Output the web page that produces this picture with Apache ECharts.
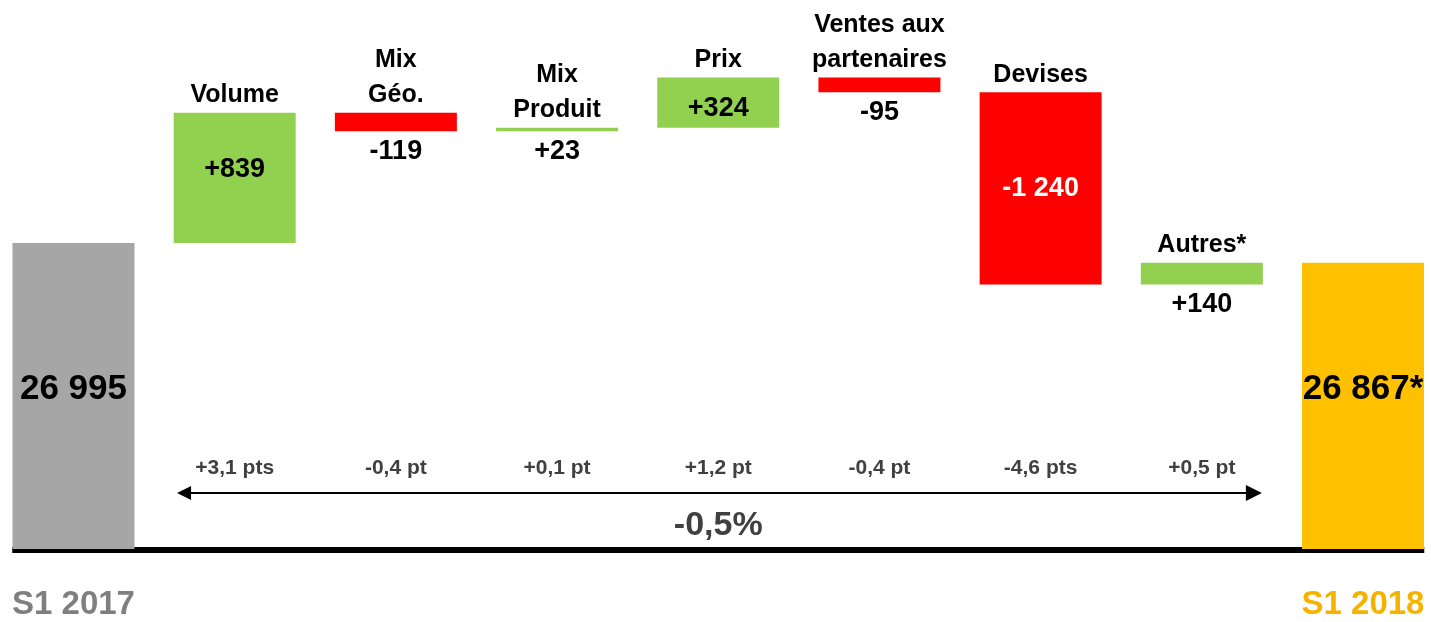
<!DOCTYPE html>
<html>
<head>
<meta charset="utf-8">
<script src="https://cdn.jsdelivr.net/npm/echarts@6/dist/echarts.min.js"></script>
<style>
html, body { margin: 0; padding: 0; background: #fff; }
#chart { width: 1431px; height: 622px; }
</style>
</head>
<body>
<div id="chart"></div>
<script>
// données du graphique (CA S1 2017 -> S1 2018)
var categories = ['S1 2017', 'Volume', 'Mix\nGéo.', 'Mix\nProduit', 'Prix', 'Ventes aux\npartenaires', 'Devises', 'Autres*', 'S1 2018'];
var startValue = 26995;
var endValue = 26867;
var deltas = [839, -119, 23, 324, -95, -1240, 140];
var valueLabels = ['26 995', '+839', '-119', '+23', '+324', '-95', '-1 240', '+140', '26 867*'];
var ptsLabels = ['', '+3,1 pts', '-0,4 pt', '+0,1 pt', '+1,2 pt', '-0,4 pt', '-4,6 pts', '+0,5 pt', ''];
var totalChange = '-0,5%';

var FONT = "'Liberation Sans Narrow', 'Arial Narrow', 'Liberation Sans', Arial, sans-serif";
var GREEN = '#92D050', RED = '#FF0000', GREY = '#A6A6A6', GOLD = '#FFC000';
var Y_MIN = 25020, Y_MAX = 28500;
var ARROW_Y = 25381;
// position des valeurs : dans la barre ou en dessous
var valuePos = ['inside', 'inside', 'bottom', 'bottom', 'inside', 'bottom', 'inside', 'bottom', 'inside'];
var valueOffset = [-7, -8, 0, 0, 6, 0, 0, 0, -17];

(function () {
    var base = [0], heights = [startValue], tops = ['-'];
    var cum = startValue;
    for (var i = 0; i < deltas.length; i++) {
        var next = cum + deltas[i];
        base.push(Math.min(cum, next));
        heights.push(Math.abs(deltas[i]));
        tops.push(Math.max(cum, next));
        cum = next;
    }
    base.push(0);
    heights.push(endValue);
    tops.push('-');

    var last = heights.length - 1;
    var barData = heights.map(function (h, i) {
        var color = i === 0 ? GREY : (i === last ? GOLD : (deltas[i - 1] >= 0 ? GREEN : RED));
        var big = (i === 0 || i === last);
        return {
            value: h,
            itemStyle: { color: color },
            label: {
                show: true,
                position: valuePos[i],
                formatter: valueLabels[i],
                fontSize: big ? 35 : 27,
                fontWeight: 'bold',
                fontFamily: FONT,
                color: (deltas[i - 1] === -1240) ? '#fff' : '#000',
                distance: 7,
                offset: [0, valueOffset[i]]
            }
        };
    });

    var nameData = [];
    var ptsData = [];
    for (var j = 1; j < last; j++) {
        nameData.push({ value: [j, tops[j]], label: { formatter: categories[j] } });
        ptsData.push({ value: [j, ARROW_Y], label: { formatter: ptsLabels[j] } });
    }

    var option = {
        animation: false,
        backgroundColor: '#fff',
        grid: { left: -7.1, right: -12.6, top: 9.6, bottom: 73, outerBoundsMode: 'none', containLabel: false },
        xAxis: [{
            type: 'category',
            data: categories,
            axisLine: { show: false },
            axisTick: { show: false },
            axisLabel: {
                interval: 0,
                margin: 39,
                formatter: function (v, idx) {
                    if (idx === 0) return '{a|' + v + '}';
                    if (idx === last) return '{b|' + v + '}';
                    return '';
                },
                rich: {
                    a: { fontSize: 33, fontWeight: 'bold', fontFamily: FONT, color: '#7F7F7F' },
                    b: { fontSize: 33, fontWeight: 'bold', fontFamily: FONT, color: '#F5B300' }
                }
            }
        }, {
            type: 'value',
            min: -0.5,
            max: 8.5,
            show: false
        }],
        yAxis: { type: 'value', min: Y_MIN, max: Y_MAX, show: false, splitLine: { show: false } },
        series: [{
            type: 'bar',
            stack: 'wf',
            barWidth: 122,
            silent: true,
            itemStyle: { color: 'transparent' },
            data: base
        }, {
            type: 'bar',
            stack: 'wf',
            barWidth: 122,
            silent: true,
            data: barData
        }, {
            type: 'scatter',
            symbolSize: 0,
            silent: true,
            itemStyle: { opacity: 1 },
            label: {
                show: true, position: 'top', distance: 0,
                fontSize: 25, fontWeight: 'bold', fontFamily: FONT, color: '#000', lineHeight: 35
            },
            data: nameData
        }, {
            type: 'scatter',
            symbolSize: 0,
            silent: true,
            itemStyle: { opacity: 1 },
            label: {
                show: true, position: 'top', distance: 14,
                fontSize: 21, fontWeight: 'bold', fontFamily: FONT, color: '#404040'
            },
            data: ptsData
        }, {
            type: 'scatter',
            symbolSize: 0,
            silent: true,
            itemStyle: { opacity: 1 },
            label: {
                show: true, position: 'bottom', distance: 16, formatter: totalChange,
                fontSize: 34, fontWeight: 'bold', fontFamily: FONT, color: '#404040'
            },
            data: [[4, ARROW_Y]]
        }, {
            type: 'lines',
            coordinateSystem: 'cartesian2d',
            xAxisIndex: 1,
            yAxisIndex: 0,
            silent: true,
            clip: false,
            symbol: ['triangle', 'triangle'],
            symbolSize: [14, 16],
            lineStyle: { color: '#000', width: 2, opacity: 1 },
            data: [{ coords: [[0.686, ARROW_Y], [7.323, ARROW_Y]] }]
        }, {
            type: 'lines',
            coordinateSystem: 'cartesian2d',
            xAxisIndex: 1,
            yAxisIndex: 0,
            silent: true,
            clip: false,
            symbol: 'none',
            lineStyle: { color: '#000', width: 6, opacity: 1 },
            data: [{ coords: [[-0.38, Y_MIN - 6], [8.38, Y_MIN - 6]] }]
        }]
    };

    var chart = echarts.init(document.getElementById('chart'));
    chart.setOption(option);
})();
</script>
</body>
</html>
